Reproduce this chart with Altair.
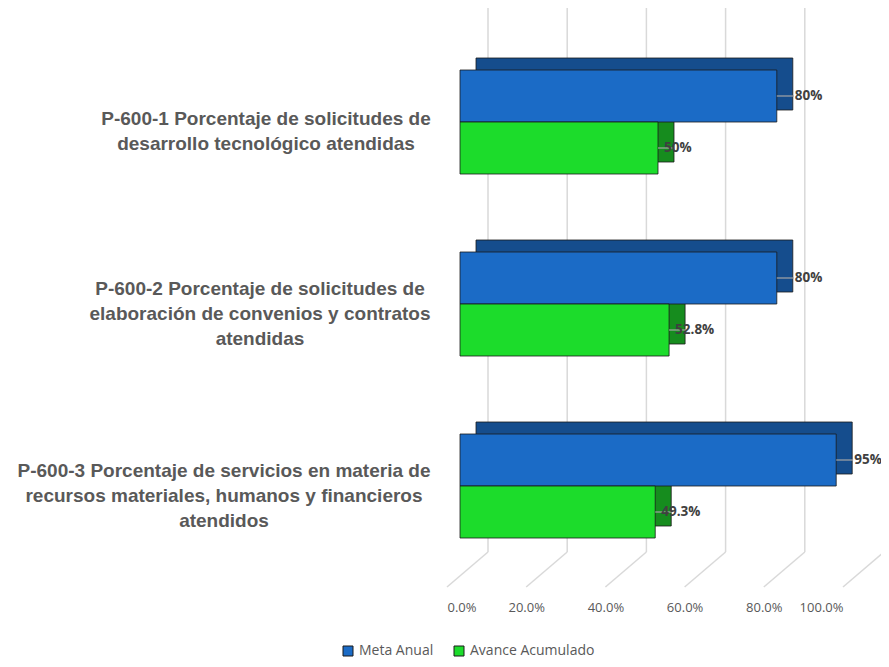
import altair as alt
import pandas as pd

categorias = [
    "P-600-1 Porcentaje de solicitudes de\ndesarrollo tecnológico atendidas",
    "P-600-2 Porcentaje de solicitudes de\nelaboración de convenios y contratos\natendidas",
    "P-600-3 Porcentaje de servicios en materia de\nrecursos materiales, humanos y financieros\natendidos",
]
series = ["Meta Anual", "Avance Acumulado"]
meta = [0.80, 0.80, 0.95]
avance = [0.50, 0.528, 0.493]
ticks = [0.0, 0.2, 0.4, 0.6, 0.8, 1.0]

front_colors = ["#1B6BC6", "#1CDC2B"]
side_colors = ["#154D8D", "#168C1E"]

rows = []
for c, m, a in zip(categorias, meta, avance):
    rows.append({"cat": c, "serie": series[0], "valor": m})
    rows.append({"cat": c, "serie": series[1], "valor": a})
df = pd.DataFrame(rows)
df_ticks = pd.DataFrame({"t": ticks})

# one row per text line of each category label, with its slot around the centre
line_rows = []
for c in categorias:
    parts = c.split("\n")
    n = len(parts)
    for i, p in enumerate(parts):
        line_rows.append({"cat": c, "linea": p, "k": 2 * i - (n - 1)})
df_lines = pd.DataFrame(line_rows)

base = alt.Chart(df)
xs = alt.Scale(domain=[0, 1], nice=False)
ys = alt.Scale(domain=categorias, paddingInner=0.4286, paddingOuter=0.2143)
Y = alt.Y("cat:N", scale=ys, axis=None)

grid_v = alt.Chart(df_ticks).mark_rule(color="#D9D9D9", strokeWidth=1.5, xOffset=28).encode(
    x=alt.X("t:Q", scale=xs), y=alt.value(-24), y2=alt.value(521)
)
grid_d = alt.Chart(df_ticks).mark_rule(color="#D9D9D9", strokeWidth=1.5, xOffset=28, x2Offset=-13).encode(
    x=alt.X("t:Q", scale=xs), x2="t:Q", y=alt.value(521), y2=alt.value(556)
)

def back(i):
    return base.transform_filter(alt.datum.serie == series[i]).mark_bar(
        color=side_colors[i], stroke="#1A1A1A", strokeWidth=0.8, xOffset=16, x2Offset=16
    ).encode(
        x=alt.X("valor:Q", scale=xs),
        y=Y,
        yOffset=alt.YOffset("serie:N", scale=alt.Scale(type="band", domain=series, range=[-12, 92],
                                                         paddingInner=0, paddingOuter=0)),
    )

YO = alt.YOffset("serie:N", scale=alt.Scale(type="band", domain=series, range=[0, 104],
                                            paddingInner=0, paddingOuter=0))

front = base.mark_bar(stroke="#1A1A1A", strokeWidth=0.8).encode(
    x=alt.X("valor:Q", scale=xs, axis=alt.Axis(
        values=ticks, format=".1%", title=None, domain=False, ticks=False, grid=False,
        labelOffset=-13, labelPadding=24, labelFont="Open Sans", labelFontSize=13,
        labelColor="#595959")),
    y=Y,
    yOffset=YO,
    color=alt.Color("serie:N", scale=alt.Scale(domain=series, range=front_colors),
                    legend=alt.Legend(orient="none", legendX=-119, legendY=613, direction="horizontal",
                                      title=None, symbolType="square", symbolSize=100,
                                      symbolStrokeColor="#1A1A1A", symbolStrokeWidth=1,
                                      labelFont="Open Sans", labelFontSize=14, labelColor="#595959",
                                      columnPadding=18, labelOffset=4)),
)

leader = base.mark_rule(color="#A6A6A6", strokeWidth=1.2, x2Offset=17).encode(
    x=alt.X("valor:Q", scale=xs), x2="valor:Q", y=Y, yOffset=YO
)

def labels(i, dx):
    return base.transform_filter(alt.datum.serie == series[i]).mark_text(
        align="left", baseline="middle", dx=dx, font="Open Sans", fontWeight="bold",
        fontSize=13.5, color="#404040"
    ).encode(
        x=alt.X("valor:Q", scale=xs), y=Y, yOffset=YO,
        text=alt.Text("valor:Q", format=".1~%"),
    )

# label blocks are right-aligned near the axis, each line centred within its block
label_centres = [-194, -200, -236]

def cat_text(j):
    return alt.Chart(df_lines).transform_filter(alt.datum.cat == categorias[j]).mark_text(
        align="center", baseline="middle", font="Liberation Sans",
        fontWeight="bold", fontSize=19, color="#595959"
    ).encode(
        y=Y,
        yOffset=alt.YOffset("k:O", scale=alt.Scale(type="point", domain=[-2, -1, 0, 1, 2],
                                                   range=[36.5, 86.5], padding=0)),
        x=alt.value(label_centres[j]),
        text="linea:N",
    )

chart = alt.layer(
    grid_v, grid_d, back(0), back(1), front, leader,
    cat_text(0), cat_text(1), cat_text(2), labels(0, 18), labels(1, 6)
).resolve_scale(yOffset="independent").properties(
    width=396, height=546,
    padding={"left": 452, "top": 23, "right": 25, "bottom": 82},
    autosize=alt.AutoSizeParams(type="none"),
    background="white",
).configure_view(stroke=None)

chart.save("out.html", embed_options={"renderer": "svg", "actions": False})
